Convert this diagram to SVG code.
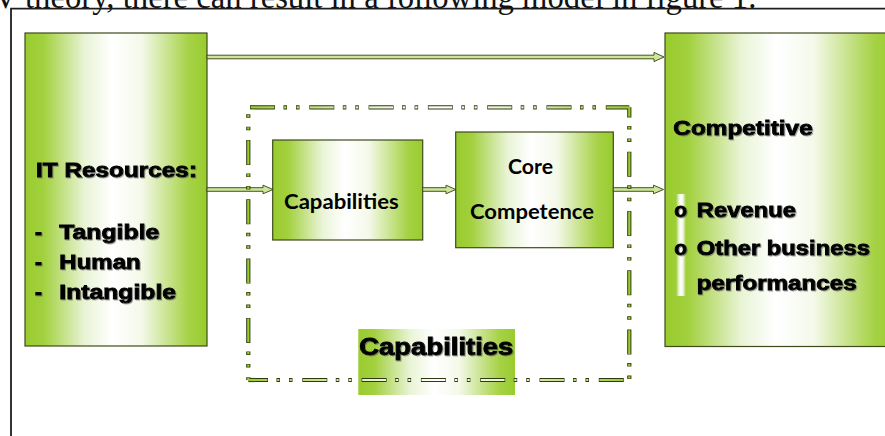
<svg xmlns="http://www.w3.org/2000/svg" width="885" height="436" viewBox="0 0 885 436">
  <defs>
    <!-- horizontal green-white-green fill used by every box -->
    <linearGradient id="gBox" x1="0" y1="0" x2="1" y2="0">
      <stop offset="0" stop-color="#99cc2e"/>
      <stop offset="0.1" stop-color="#a2d03e"/>
      <stop offset="0.33" stop-color="#e9f4d6"/>
      <stop offset="0.48" stop-color="#ffffff"/>
      <stop offset="0.64" stop-color="#f4f9ea"/>
      <stop offset="0.9" stop-color="#a6d246"/>
      <stop offset="1" stop-color="#99cc2e"/>
    </linearGradient>
    <!-- same fill spread over the dash-dot frame -->
    <linearGradient id="gFrame" gradientUnits="userSpaceOnUse" x1="248" y1="0" x2="630" y2="0">
      <stop offset="0" stop-color="#99cc2e"/>
      <stop offset="0.3" stop-color="#e3f0cb"/>
      <stop offset="0.5" stop-color="#ffffff"/>
      <stop offset="0.7" stop-color="#e3f0cb"/>
      <stop offset="1" stop-color="#99cc2e"/>
    </linearGradient>
    <filter id="shadow" x="-5%" y="-20%" width="110%" height="140%">
      <feDropShadow dx="1" dy="1" stdDeviation="0.6" flood-color="#555" flood-opacity="0.55"/>
    </filter>
    <style>
      .box { fill: url(#gBox); stroke: #3f4a1c; stroke-width: 1.2; }
      .heavy { font-family: "Liberation Sans", Arial, sans-serif; font-weight: bold; font-size: 21px; fill: #000; stroke: #000; stroke-width: 0.9; filter: url(#shadow); }
      .soft { font-family: Lato, "Open Sans", sans-serif; font-weight: bold; font-size: 20px; fill: #000; }
      .arrow { fill: #cde69a; stroke: #34410f; stroke-width: 0.9; stroke-linejoin: miter; }
      .dashOut { fill: none; stroke: #2f3a10; stroke-width: 4.2; stroke-dasharray: 25 8.5 3.5 9 3.5 9.8; }
      .dashIn { fill: none; stroke: url(#gFrame); stroke-width: 2.2; stroke-dasharray: 23.8 9.7 2.3 10.2 2.3 11; }
      .caption { font-family: "Liberation Serif", "Times New Roman", serif; font-size: 32.7px; fill: #111; }
    </style>
  </defs>

  <rect width="885" height="436" fill="#ffffff"/>

  <!-- running text above the figure -->
  <text class="caption" x="-28" y="7.5">BV theory, there can result in a following model in figure 1.</text>

  <!-- figure frame -->
  <path d="M11 436 V8.6 H885" fill="none" stroke="#1e1e1e" stroke-width="1.8"/>

  <!-- IT resources -->
  <g id="it-resources">
    <rect class="box" x="25" y="33" width="182" height="313"/>
    <text class="heavy" x="36" y="177" textLength="161" lengthAdjust="spacingAndGlyphs">IT Resources:</text>
    <text class="heavy" x="35" y="239.3">-</text>
    <text class="heavy" x="59.3" y="239.3" textLength="100" lengthAdjust="spacingAndGlyphs">Tangible</text>
    <text class="heavy" x="35" y="269.3">-</text>
    <text class="heavy" x="59.3" y="269.3" textLength="81.4" lengthAdjust="spacingAndGlyphs">Human</text>
    <text class="heavy" x="35" y="299.3">-</text>
    <text class="heavy" x="59.3" y="299.3" textLength="116.7" lengthAdjust="spacingAndGlyphs">Intangible</text>
  </g>

  <!-- Capabilities label under the frame -->
  <g id="capabilities-label">
    <rect x="358.3" y="329" width="156.7" height="66" fill="url(#gBox)"/>
    <text class="heavy" x="359.3" y="355" style="font-size:23px" textLength="154" lengthAdjust="spacingAndGlyphs">Capabilities</text>
  </g>

  <!-- Competitive advantage -->
  <g id="competitive">
    <rect class="box" x="665" y="33" width="232" height="313.5"/>
    <rect x="675" y="194" width="12" height="102" fill="url(#gBox)"/>
    <text class="heavy" x="673.3" y="135" textLength="139.4" lengthAdjust="spacingAndGlyphs">Competitive</text>
    <text class="heavy" x="674.3" y="216.7">o</text>
    <text class="heavy" x="696.7" y="216.7" textLength="99.3" lengthAdjust="spacingAndGlyphs">Revenue</text>
    <text class="heavy" x="674.3" y="255">o</text>
    <text class="heavy" x="696.7" y="255" textLength="173.3" lengthAdjust="spacingAndGlyphs">Other business</text>
    <text class="heavy" x="696.7" y="290" textLength="160" lengthAdjust="spacingAndGlyphs">performances</text>
  </g>

  <!-- Capabilities -->
  <g id="capabilities">
    <rect class="box" x="272.7" y="140" width="150" height="100"/>
    <text class="soft" x="284" y="209.3" textLength="114.7" lengthAdjust="spacingAndGlyphs">Capabilities</text>
  </g>

  <!-- Core competence -->
  <g id="core-competence">
    <rect class="box" x="455.7" y="132" width="157.6" height="115.7"/>
    <text class="soft" x="508" y="174.3" textLength="45" lengthAdjust="spacingAndGlyphs">Core</text>
    <text class="soft" x="470" y="219.3" textLength="124" lengthAdjust="spacingAndGlyphs">Competence</text>
  </g>

  <!-- connectors -->
  <g id="connectors">
    <path class="arrow" d="M207 55.2 H654 V52.4 L664 57 L654 61.6 V58.8 H207 Z"/>
    <path class="arrow" d="M207 187.7 H263 V185.2 L273 189.5 L263 193.8 V191.3 H207 Z"/>
    <path class="arrow" d="M422.7 187.7 H446 V185.2 L455.7 189.5 L446 193.8 V191.3 H422.7 Z"/>
    <path class="arrow" d="M613.3 187.7 H653.5 V185.2 L663.5 189.5 L653.5 193.8 V191.3 H613.3 Z"/>
  </g>

  <!-- dash-dot-dot boundary round capabilities and core competence -->
  <g id="capability-frame">
    <path class="dashOut" d="M248.3 107.3 H629.3" stroke-dashoffset="57.6"/>
    <path class="dashOut" d="M629.3 107.3 V380" stroke-dashoffset="14.9"/>
    <path class="dashOut" d="M248.3 107.3 V380" stroke-dashoffset="26.6"/>
    <path class="dashOut" d="M248.3 380 H629.3" stroke-dashoffset="5.3"/>
    <path class="dashIn" d="M248.3 107.3 H629.3" stroke-dashoffset="57.0"/>
    <path class="dashIn" d="M629.3 107.3 V380" stroke-dashoffset="14.3"/>
    <path class="dashIn" d="M248.3 107.3 V380" stroke-dashoffset="26.0"/>
    <path class="dashIn" d="M248.3 380 H629.3" stroke-dashoffset="4.7"/>
  </g>
</svg>
